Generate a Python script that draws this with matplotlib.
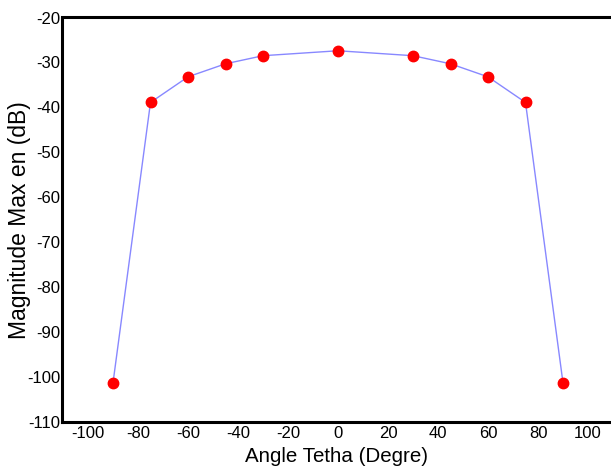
import matplotlib
matplotlib.use("Agg")
import matplotlib.pyplot as plt

angle = [-90, -75, -60, -45, -30, 0, 30, 45, 60, 75, 90]
magnitude = [-101.3, -38.9, -33.2, -30.3, -28.5, -27.4, -28.5, -30.3, -33.2, -38.9, -101.3]
xticks = list(range(-100, 101, 20))
yticks = list(range(-110, -19, 10))

plt.rcParams["font.family"] = ["Liberation Sans", "DejaVu Sans"]
plt.rcParams["axes.unicode_minus"] = False

fig = plt.figure(figsize=(6.11, 4.70), dpi=100)
ax = fig.add_axes([62 / 611, 48 / 470, 1 - 62 / 611, (422 - 17.5) / 470])

ax.plot(angle, magnitude, color="#8888ff", linewidth=1.0, zorder=2)
ax.plot(angle, magnitude, "o", color="#ff0000", markersize=7.5, linestyle="none", zorder=3)

ax.set_xlim(-110.4, 109.2)
ax.set_ylim(-110, -20)
ax.set_xticks(xticks)
ax.set_yticks(yticks)
ax.tick_params(length=0, labelsize=12, pad=1)
ax.tick_params(axis="x", pad=3)

for s in ["left", "bottom", "top"]:
    ax.spines[s].set_linewidth(2.2)
ax.spines["right"].set_visible(False)

ax.set_xlabel("Angle Tetha (Degre)", fontsize=14.8, va="center")
ax.set_ylabel("Magnitude Max en (dB)", fontsize=16.5, va="center")
# place labels where they sit in the original
ax.xaxis.set_label_coords(0.5, (422 - 457) / 404.5)
ax.yaxis.set_label_coords((20 - 62) / 549, 0.5)

fig.savefig("out.png", dpi=100)
